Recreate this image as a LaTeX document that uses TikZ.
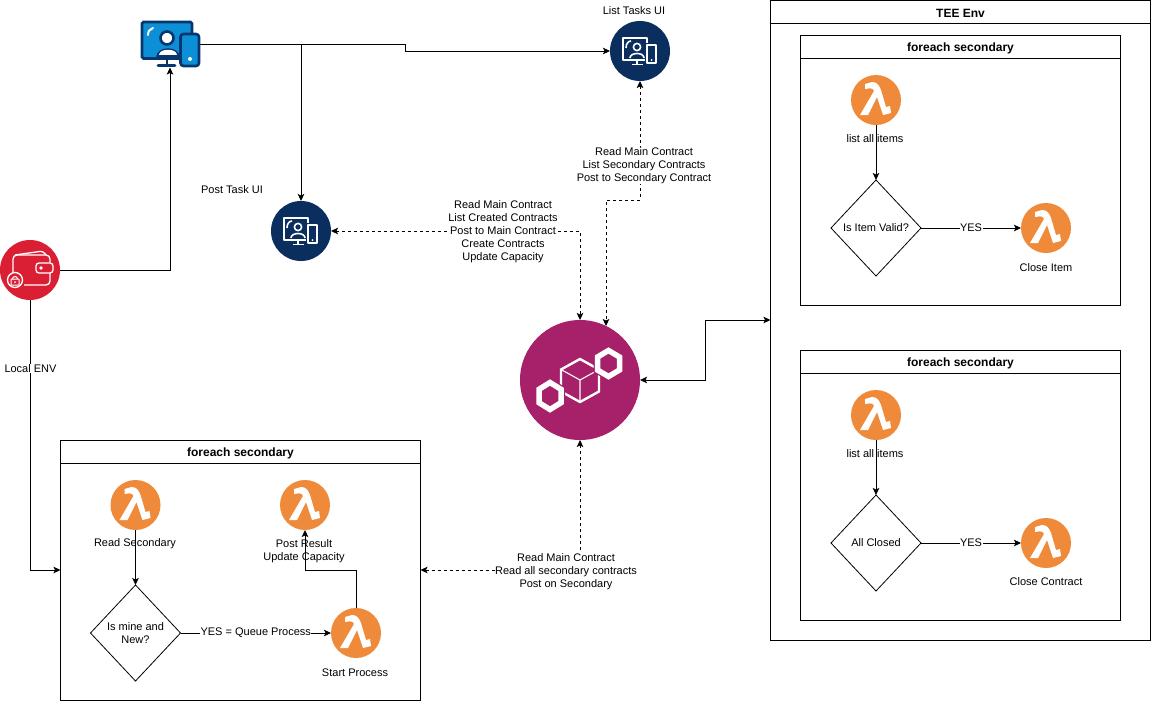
\documentclass[tikz,border=0pt]{standalone}
\usepackage{fontspec}
\setmainfont{Liberation Sans}
\usetikzlibrary{arrows.meta,shapes.geometric}
\definecolor{lamb}{HTML}{EF8A3A}
\definecolor{navy}{HTML}{0A2F5F}
\definecolor{walletred}{HTML}{DA1F35}
\definecolor{chainp}{HTML}{A6206A}
\definecolor{deskb}{HTML}{0C8FD6}
\definecolor{deskd}{HTML}{07366F}
\tikzset{
  x=1pt,y=-1pt,
  every node/.style={font=\fontsize{11}{13}\selectfont,inner sep=0pt,outer sep=0pt,align=center},
  tip/.tip={Stealth[length=7pt,width=6.5pt,inset=1.5pt]},
  conn/.style={draw=black,line width=.8pt,-tip},
  dconn/.style={conn,dash pattern=on 3pt off 3pt},
  both/.style={tip-tip},
  frame/.style={draw=black,line width=.8pt,fill=white,anchor=north west},
  head/.style={font=\fontsize{12}{14}\selectfont\bfseries,yshift=-1pt},
  lambdanode/.style={circle,fill=lamb,minimum size=50pt},
  choice/.style={diamond,draw=black,line width=.8pt,fill=white,aspect=.94,minimum width=90pt,minimum height=96pt},
  ui/.style={circle,fill=navy,minimum size=60pt},
  lbl/.style={fill=white,inner sep=0.5pt},
  glyph/.style={draw=white,line width=1.6pt,fill=none,line join=round}
}
\newcommand{\lambdaglyph}[1]{%
  \fill[white,shift={(#1)}] (-11,-16) -- (-4,-18) .. controls (1,-18) and (3,-15) .. (5,-10) -- (10,7) -- (14,6) -- (15,13) -- (7,15) -- (1,-3) -- (-8,15) -- (-16,15) -- (-2,-9) .. controls (-3,-12) and (-5,-12) .. (-11,-11) -- cycle;}
\newcommand{\uiglyph}[1]{%
  \begin{scope}[shift={(#1)}]
    \draw[glyph] (5,9) -- (-17,9) -- (-17,-13) -- (7,-13) -- (7,-8);
    \draw[glyph] (-3,9) -- (-3,13) (-8,13.5) -- (3,13.5);
    \draw[glyph,fill=navy] (7,-6) rectangle (16,12);
    \fill[white] (11.5,9) circle (1pt);
    \draw[glyph] (-3,-4) circle (3.6pt);
    \draw[glyph] (-10,7) .. controls (-10,1) and (4,1) .. (4,7);
    \draw[glyph] (-14,-3) .. controls (-14,-7) and (-12,-10) .. (-9,-10);
  \end{scope}}
\begin{document}
\begin{tikzpicture}
\useasboundingbox (0,0) rectangle (1151,702);
\fill[white] (0,0) rectangle (1151,702);
% frames
\node[frame,minimum width=380pt,minimum height=640pt] (tee) at (770.5,0.5) {};
\node[frame,minimum width=380pt,minimum height=23pt] (teeh) at (770.5,0.5) {};
\node[head] at (teeh.center) {TEE Env};
\node[frame,minimum width=320pt,minimum height=270pt] (f1) at (800.5,35.5) {};
\node[frame,minimum width=320pt,minimum height=23pt] (f1h) at (800.5,35.5) {};
\node[head] at (f1h.center) {foreach secondary};
\node[frame,minimum width=320pt,minimum height=270pt] (f2) at (800.5,350.5) {};
\node[frame,minimum width=320pt,minimum height=23pt] (f2h) at (800.5,350.5) {};
\node[head] at (f2h.center) {foreach secondary};
\node[frame,minimum width=360pt,minimum height=260pt] (f3) at (60.5,440.5) {};
\node[frame,minimum width=360pt,minimum height=23pt] (f3h) at (60.5,440.5) {};
\node[head] at (f3h.center) {foreach secondary};
% icon nodes
\node[minimum width=60pt,minimum height=47pt] (desk) at (170,44) {};
\node[ui] (post) at (301,231) {};
\node[ui] (list) at (640,51) {};
\node[circle,fill=walletred,minimum size=60pt] (wallet) at (30,270) {};
\node[circle,fill=chainp,minimum size=120pt] (chain) at (580,380) {};
\node[lambdanode] (l1) at (876,100) {};
\node[lambdanode] (l2) at (1046,228) {};
\node[lambdanode] (l3) at (876,415) {};
\node[lambdanode] (l4) at (1046,543) {};
\node[lambdanode] (l5) at (135.5,505) {};
\node[lambdanode] (l6) at (305,505) {};
\node[lambdanode] (l7) at (356,633) {};
\node[choice] (d1) at (876,228) {\raisebox{-.6pt}{Is Item Valid?}};
\node[choice] (d2) at (876,543) {\raisebox{-.6pt}{All Closed}};
\node[choice] (d3) at (135.5,633) {Is mine and\\New?};
\foreach \p in {l1,l2,l3,l4,l5,l6,l7}{\lambdaglyph{\p}}
\uiglyph{post}
\uiglyph{list}
% desktop icon
\begin{scope}[shift={(desk)}]
  \draw[draw=deskd,fill=deskb,line width=2.6pt,rounded corners=1.5pt] (-28,-22) rectangle (22,14.5);
  \draw[deskd,line width=2.6pt] (-3,15) -- (-3,21);
  \draw[deskd,line width=2.6pt,line cap=round] (-12,21.5) -- (5,21.5);
  \fill[deskd] (-14,14) .. controls (-14,1) and (10,1) .. (10,14) -- cycle;
  \fill[white] (-11,11) .. controls (-11,4) and (7,4) .. (7,11) -- cycle;
  \draw[draw=deskd,fill=white,line width=2.6pt] (-3,-6) circle (6.5pt);
  \draw[white,line width=2pt,line cap=round] (-22,-9) .. controls (-22,-13) and (-20,-15) .. (-17,-16);
  \draw[draw=deskd,fill=deskb,line width=2.6pt,rounded corners=3pt] (10.5,-10) rectangle (29,22);
  \fill[white] (20,15) circle (2pt);
\end{scope}
% wallet icon
\begin{scope}[shift={(wallet)}]
  \draw[white,line width=1.3pt,rounded corners=3pt] (-15,-15) -- (13,-19) -- (16,-15);
  \draw[white,line width=1.3pt,rounded corners=4pt] (-17,3) -- (-17,-15) -- (20,-15) -- (20,15) -- (-6,15);
  \draw[white,line width=1.3pt,rounded corners=3pt,fill=walletred] (23,-7) -- (6,-7) -- (6,3) -- (23,3) -- cycle;
  \fill[white] (11,-2) circle (1.8pt);
  \draw[white,line width=1.3pt,fill=walletred] (-15,10) circle (7.5pt);
  \draw[white,line width=1pt,rounded corners=.5pt] (-19,9) rectangle (-11,15);
  \draw[white,line width=1pt] (-17.5,9) arc (180:0:2.5pt);
  \fill[white] (-15,12) circle (1pt);
\end{scope}
% chain icon
\begin{scope}[shift={(chain)}]
  \draw[white,line width=2.4pt,line join=miter] (0,-21) -- (19,-10.5) -- (19,11.5) -- (0,22) -- (-19,11.5) -- (-19,-10.5) -- cycle;
  \draw[white,line width=1.1pt] (-19,-10.5) -- (0,0) -- (19,-10.5) (0,0) -- (0,22);
  \draw[chainp,line width=8pt,line join=miter] (-30,2.5) -- (-19,9.3) -- (-19,22.7) -- (-30,29.5) -- (-41,22.7) -- (-41,9.3) -- cycle;
  \draw[chainp,line width=8pt,line join=miter] (28.5,-29.5) -- (39.5,-23) -- (39.5,-10) -- (28.5,-3.5) -- (17.5,-10) -- (17.5,-23) -- cycle;
  \draw[white,line width=5.5pt,line join=miter] (-30,2.5) -- (-19,9.3) -- (-19,22.7) -- (-30,29.5) -- (-41,22.7) -- (-41,9.3) -- cycle;
  \draw[white,line width=5.5pt,line join=miter] (28.5,-29.5) -- (39.5,-23) -- (39.5,-10) -- (28.5,-3.5) -- (17.5,-10) -- (17.5,-23) -- cycle;
\end{scope}
% connectors
\coordinate (bend1) at (405,44);
\coordinate (bend2) at (405,51);
\coordinate (tap) at (301,44);
\coordinate (leftin) at (60.5,570);
\coordinate (rightin) at (420.5,570);
\coordinate (up) at (606,200);
\coordinate (cin) at (606,326);
\coordinate (teeb1) at (705,380);
\coordinate (teeb2) at (705,320);
\coordinate (teein) at (770.5,320);
\coordinate (lb) at (305,570);
\draw[conn] (desk.east) -- (bend1) -- (bend2) -- (list.west);
\draw[conn] (tap) -- (post.north);
\draw[conn] (wallet.east) -| (desk.south);
\draw[conn] (wallet.south) |- (leftin);
\draw[conn] (l1.south) -- (d1.north);
\draw[conn] (l3.south) -- (d2.north);
\draw[conn] (l5.south) -- (d3.north);
\draw[conn] (d1.east) -- (l2.west) node[midway,lbl] {YES};
\draw[conn] (d2.east) -- (l4.west) node[midway,lbl] {YES};
\draw[conn] (d3.east) -- (l7.west) node[midway,lbl] {YES = Queue Process};
\draw[conn] (l7.north) |- (lb) -- (l6.south);
\draw[dconn,both] (post.east) -| (chain.north);
\draw[dconn,both] (list.south) |- (up) -- (cin);
\draw[dconn,both] (rightin) -| (chain.south);
\draw[conn,both] (chain.east) -- (teeb1) -- (teeb2) -- (teein);
% labels
\node[lbl] at (30.5,368.5) {Local ENV};
\node at (232,190) {Post Task UI};
\node at (634,10.5) {List Tasks UI};
\node[lbl] at (503,232) {Read Main Contract\\List Created Contracts\\Post to Main Contract\\Create Contracts\\Update Capacity};
\node[lbl] at (644,165.5) {Read Main Contract\\List Secondary Contracts\\Post to Secondary Contract};
\node[lbl] at (566,571.5) {Read Main Contract\\Read all secondary contracts\\Post on Secondary};
\node at (875,139) {list all items};
\node at (1046,267.5) {Close Item};
\node at (875,454) {list all items};
\node at (1046,582) {Close Contract};
\node at (135,544) {Read Secondary};
\node at (304,551) {Post Result\\Update Capacity};
\node at (355,672.5) {Start Process};
\end{tikzpicture}
\end{document}
